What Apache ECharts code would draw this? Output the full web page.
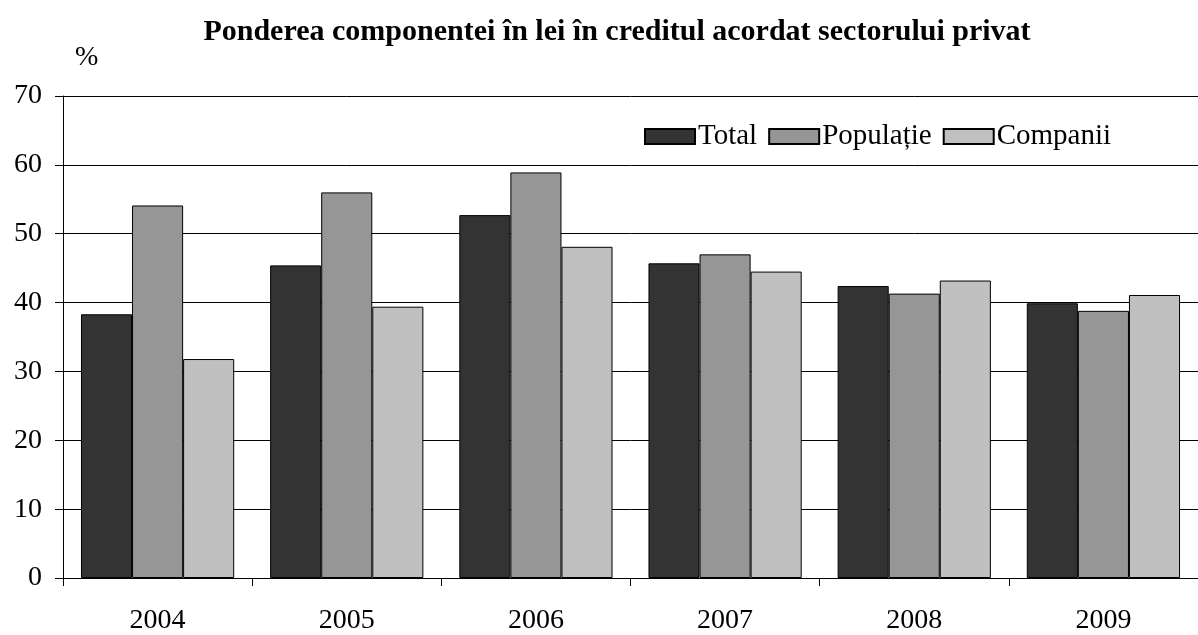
<!DOCTYPE html>
<html>
<head>
<meta charset="utf-8">
<script src="https://cdn.jsdelivr.net/npm/echarts@6/dist/echarts.min.js"></script>
<style>
  html, body { margin: 0; padding: 0; background: #fff; }
  #chart { width: 1198px; height: 635px; }
</style>
</head>
<body>
<div id="chart"></div>
<script>
// Share of the lei component in credit to the private sector (%)
const years = ['2004', '2005', '2006', '2007', '2008', '2009'];
const total = [38.3, 45.4, 52.7, 45.7, 42.4, 39.9];
const populatie = [54.1, 56.0, 58.9, 47.0, 41.3, 38.8];
const companii = [31.8, 39.4, 48.1, 44.5, 43.2, 41.1];
const yTicks = [0, 10, 20, 30, 40, 50, 60, 70];

const FONT = '"Liberation Serif", "Times New Roman", serif';

const chart = echarts.init(document.getElementById('chart'), null, { renderer: 'canvas' });

function barSeries(name, data, color) {
  return {
    name: name,
    type: 'bar',
    data: data,
    barGap: '0%',
    barCategoryGap: '19%',
    itemStyle: { color: color, borderColor: '#000', borderWidth: 1 },
    emphasis: { disabled: true }
  };
}

chart.setOption({
  animation: false,
  backgroundColor: '#fff',
  textStyle: { fontFamily: FONT, color: '#000' },
  title: {
    text: 'Ponderea componentei în lei în creditul acordat sectorului privat',
    left: 612,
    textAlign: 'center',
    top: 12,
    textStyle: { fontFamily: FONT, fontWeight: 'bold', fontSize: 30, color: '#000' }
  },
  legend: {
    left: 644,
    top: 122,
    padding: 0,
    itemWidth: 50,
    itemHeight: 15,
    itemGap: 11,
    icon: 'rect',
    selectedMode: false,
    textStyle: { fontFamily: FONT, fontSize: 29, color: '#000', padding: [0, 0, 0, -2] },
    data: ['Total', 'Populație', 'Companii']
  },
  grid: { left: 63, top: 96, width: 1140, height: 482, containLabel: false },
  xAxis: {
    type: 'category',
    data: years,
    boundaryGap: true,
    axisLine: { lineStyle: { color: '#000', width: 1 } },
    axisTick: { show: true, length: 8, lineStyle: { color: '#000' } },
    axisLabel: { margin: 29, fontFamily: FONT, fontSize: 28, color: '#000' },
    splitLine: { show: false }
  },
  yAxis: {
    type: 'value',
    min: yTicks[0],
    max: yTicks[yTicks.length - 1],
    interval: 10,
    name: '%',
    nameLocation: 'end',
    nameGap: 24,
    nameTextStyle: { fontFamily: FONT, fontSize: 28, color: '#000', align: 'left', padding: [0, 0, 0, 12] },
    axisLine: { show: true, lineStyle: { color: '#000', width: 1 } },
    axisTick: { show: true, length: 8, lineStyle: { color: '#000' } },
    axisLabel: { margin: 21, fontFamily: FONT, fontSize: 28, color: '#000' },
    splitLine: { show: true, lineStyle: { color: '#000', width: 1 } }
  },
  series: [
    barSeries('Total', total, '#333333'),
    barSeries('Populație', populatie, '#969696'),
    barSeries('Companii', companii, '#c0c0c0')
  ]
});
</script>
</body>
</html>
